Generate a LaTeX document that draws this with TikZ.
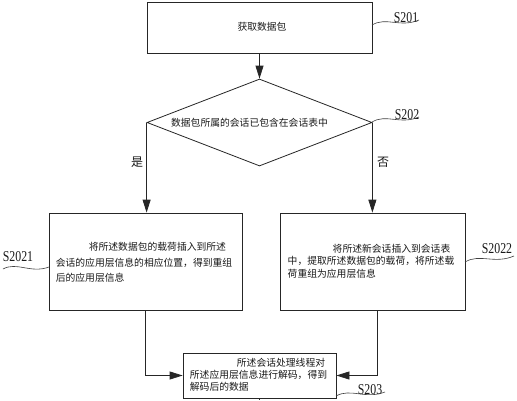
\documentclass[tikz,border=0pt]{standalone}
\usepackage{fontspec}
\setmainfont{Liberation Serif}
\newfontfamily\cjk{Noto Sans CJK SC}
\usetikzlibrary{shapes.geometric,arrows.meta,calc}
\begin{document}
\begin{tikzpicture}[x=1pt,y=-1pt,
  ln/.style={draw=black!85,line width=0.8pt},
  box/.style={ln,rectangle,inner sep=0pt},
  arr/.style={ln,-{Triangle[length=13pt,width=8pt]}},
  txt/.style={inner sep=0pt,align=left,text=black!90,font=\cjk\fontsize{9.8}{#1}\selectfont},
  txt/.default=12,
  lab/.style={inner sep=0pt,text=black!90,font=\fontsize{15}{15}\selectfont,xscale=0.79},
  yn/.style={inner sep=0pt,text=black!90,font=\cjk\fontsize{12}{12}\selectfont},
  wave/.style={draw=black!75,line width=0.6pt}]
\useasboundingbox (0,0) rectangle (517,400);
\fill[white] (0,0) rectangle (517,400);
% boxes
\node[box,minimum width=225pt,minimum height=51pt] (b1) at (259.5,27.5) {};
\node[txt] (t1) at (262,27) {获取数据包};
\node[ln,diamond,inner sep=0pt,minimum width=225pt,minimum height=87pt] (d) at (259.5,122.5) {};
\node[txt] (td) at (249.5,123) {数据包所属的会话已包含在会话表中};
\node[box,minimum width=193pt,minimum height=97pt] (b2) at (145.5,261.5) {};
\node[txt=15.5] (t2) at (144,262.5) {\hspace*{33pt}将所述数据包的载荷插入到所述\\会话的应用层信息的相应位置，得到重组\\后的应用层信息};
\node[box,minimum width=185pt,minimum height=97pt] (b3) at (372.5,261.5) {};
\node[txt=12.5] (t3) at (371,261) {\hspace*{45pt}将所述新会话插入到会话表\\中，提取所述数据包的载荷，将所述载\\荷重组为应用层信息};
\node[box,minimum width=153pt,minimum height=45pt] (b4) at (259.5,375.5) {};
\node[txt=12] (t4) at (258.5,375) {\hspace*{47pt}所述会话处理线程对\\所述应用层信息进行解码，得到\\解码后的数据};
% connectors
\draw[arr] (b1.south) -- (d.north);
\draw[arr] (d.west) -- (d.west |- b2.north);
\draw[arr] (d.east) -- (d.east |- b3.north);
\draw[arr] (b2.south) |- (b4.west);
\draw[arr] ([xshift=5pt]b3.south) |- (b4.east);
\coordinate (e4) at (259.5,400);
\draw[ln] (b4.south) -- (e4);
% yes / no
\node[yn] (yes) at (137,162) {是};
\node[yn] (no) at (383,162) {否};
% step labels
\node[lab] (l201) at (406,18) {S201};
\node[lab] (l202) at (407,115) {S202};
\node[lab] (l2021) at (18,256.5) {S2021};
\node[lab] (l2022) at (497,249) {S2022};
\node[lab] (l203) at (370,389.5) {S203};
% leader waves
\coordinate (w1a) at (372,25);   \coordinate (w1b) at (419,20);
\coordinate (w2a) at (372,122);  \coordinate (w2b) at (419,117);
\coordinate (w3a) at (3,269);    \coordinate (w3b) at (49,267);
\coordinate (w4a) at (465,262);  \coordinate (w4b) at (514,256);
\coordinate (w5a) at (336,396);  \coordinate (w5b) at (385,392);
\foreach \a/\b in {w1a/w1b,w2a/w2b,w3a/w3b,w4a/w4b,w5a/w5b}{
  \draw[wave] (\a) .. controls ($(\a)!0.3!(\b)+(0,-7)$) and ($(\a)!0.6!(\b)+(0,6)$) .. (\b);
}
\end{tikzpicture}
\end{document}
